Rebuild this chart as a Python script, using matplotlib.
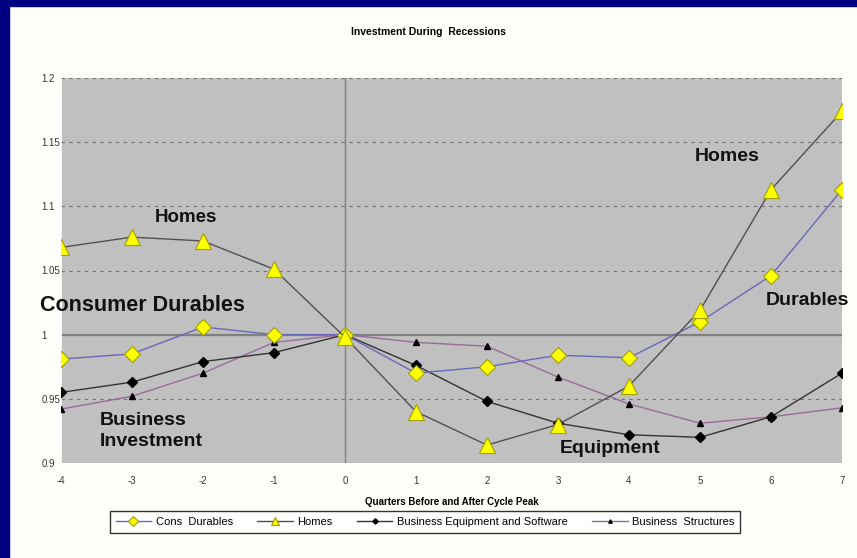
import numpy as np
import matplotlib.pyplot as plt
from matplotlib.patches import Rectangle

plt.rcParams['font.family'] = ['Liberation Sans', 'DejaVu Sans']
plt.rcParams['axes.unicode_minus'] = False

# Quarters relative to the cycle peak
quarters = [-4, -3, -2, -1, 0, 1, 2, 3, 4, 5, 6, 7]

# Index values (peak quarter = 1.0)
cons_durables = [0.981, 0.985, 1.006, 1.000, 1.000, 0.970, 0.975, 0.984, 0.982, 1.010, 1.046, 1.113]
homes = [1.068, 1.076, 1.073, 1.051, 0.998, 0.940, 0.914, 0.930, 0.960, 1.019, 1.113, 1.174]
bus_equipment = [0.955, 0.963, 0.979, 0.986, 1.000, 0.976, 0.948, 0.931, 0.922, 0.920, 0.936, 0.970]
bus_structures = [0.942, 0.952, 0.970, 0.994, 1.000, 0.994, 0.991, 0.967, 0.946, 0.931, 0.936, 0.943]

y_ticks = [0.9, 0.95, 1.0, 1.05, 1.1, 1.15, 1.2]
y_tick_labels = ['0.9', '0.95', '1', '1.05', '1.1', '1.15', '1.2']

fig = plt.figure(figsize=(8.57, 5.58), dpi=100)
fig.patch.set_facecolor('#fffffb')

# navy frame on the left and top edges
fig.patches.append(Rectangle((0, 0), 9 / 857, 1, transform=fig.transFigure,
                             color='#000080', zorder=0))
fig.patches.append(Rectangle((0, 1 - 6 / 558), 1, 6 / 558, transform=fig.transFigure,
                             color='#000080', zorder=0))

ax = fig.add_axes([61 / 857, 1 - 463 / 558, (842 - 61) / 857, (463 - 78) / 558])
ax.set_facecolor('#c0c0c0')

for yv in y_ticks:
    if yv == 1.0:
        continue
    ax.axhline(yv, color='#707070', lw=0.8, ls=(0, (3, 4)), zorder=1)
ax.axhline(1.0, color='#808080', lw=1.6, zorder=1)
ax.axvline(0, color='#808080', lw=1.0, zorder=1)

ax.plot(quarters, bus_structures, color='#9a6a9a', lw=1.0, marker='^', ms=4.5,
        mfc='black', mec='black', label='Business  Structures', zorder=3)
ax.plot(quarters, bus_equipment, color='#333333', lw=1.0, marker='D', ms=5,
        mfc='black', mec='black', label='Business Equipment and Software', zorder=4)
ax.plot(quarters, cons_durables, color='#6868b8', lw=1.0, marker='D', ms=8.5,
        mfc='#ffff00', mec='#a0a000', mew=0.8, label='Cons  Durables', zorder=5)
ax.plot(quarters, homes, color='#505050', lw=1.0, marker='^', ms=11,
        mfc='#ffff00', mec='#a0a000', mew=0.8, label='Homes', zorder=6)

ax.set_xlim(-4, 7)
ax.set_ylim(0.9, 1.2)
ax.set_xticks(quarters)
ax.set_yticks(y_ticks)
ax.set_yticklabels(y_tick_labels)
ax.tick_params(axis='both', labelsize=7, length=0, colors='#333333')
ax.tick_params(axis='x', pad=9)
ax.tick_params(axis='y', pad=14)
for lbl in ax.get_yticklabels():
    lbl.set_horizontalalignment('left')
for side in ['top', 'right', 'bottom']:
    ax.spines[side].set_visible(False)
ax.spines['left'].set_color('white')
ax.spines['left'].set_linewidth(1.2)

ax.set_xlabel('Quarters Before and After Cycle Peak', fontsize=7,
              fontweight='bold', labelpad=8)
fig.text(0.5, 1 - 32 / 558, 'Investment During  Recessions', ha='center', va='center',
         fontsize=7.5, fontweight='bold')

# series annotations
ann = dict(fontweight='bold', color='#111111', va='center', zorder=7, clip_on=False)
ax.text(-2.68, 1.091, 'Homes', fontsize=13.5, **ann)
ax.text(-4.3, 1.023, 'Consumer Durables', fontsize=15.5, **ann)
ax.text(-3.45, 0.925, 'Business\nInvestment', fontsize=14, linespacing=1.25, **ann)
ax.text(3.03, 0.911, 'Equipment', fontsize=14, **ann)
ax.text(4.93, 1.139, 'Homes', fontsize=14, **ann)
ax.text(5.92, 1.027, 'Durables', fontsize=14, **ann)

handles, labels = ax.get_legend_handles_labels()
order = [2, 3, 1, 0]
leg = fig.legend([handles[i] for i in order], [labels[i] for i in order],
                 loc='center', bbox_to_anchor=(425 / 857, 1 - 522 / 558), ncol=4,
                 fontsize=8, frameon=True, fancybox=False, markerscale=0.55,
                 handlelength=3.2, handletextpad=0.4, columnspacing=2.2,
                 borderpad=0.5)
leg.get_frame().set_edgecolor('black')
leg.get_frame().set_linewidth(1.0)

fig.savefig('out.png', dpi=100, facecolor=fig.get_facecolor())
